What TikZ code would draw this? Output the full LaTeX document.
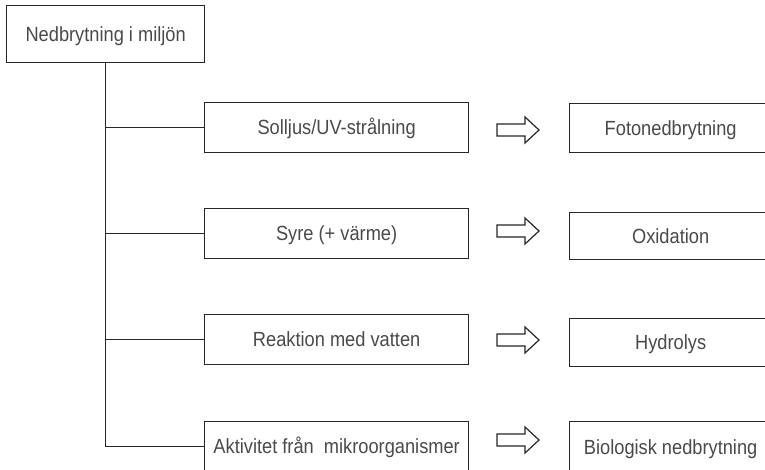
\documentclass[tikz,border=0pt]{standalone}
\usepackage{fontspec}
\setmainfont{Liberation Sans}[FakeStretch=0.89]
\definecolor{ink}{HTML}{262626}
\definecolor{txt}{HTML}{4a4a4a}
\begin{document}
\begin{tikzpicture}[x=1pt,y=-1pt,
  box/.style={draw=ink, line width=1.3pt, fill=white, text=txt,
    font=\fontsize{20.5}{22}\selectfont, inner sep=0pt, anchor=north west,
    text height=14pt, text depth=0pt},
  cause/.style={box, minimum width=264pt, minimum height=50pt},
  effect/.style={box, minimum width=202pt},
  link/.style={draw=ink, line width=1.3pt},
  blockarrow/.pic={
    \draw[draw=ink, line width=1.2pt, fill=white, line join=miter]
      (0,-6) -- (28,-6) -- (28,-13) -- (42,0) -- (28,13) -- (28,6) -- (0,6) -- cycle;
  }]
\useasboundingbox (0,0) rectangle (765,469);
\clip (0,0) rectangle (765,469);

% root
\node[box, minimum width=198pt, minimum height=57pt] (root) at (6,5) {Nedbrytning i miljön};

% causes
\node[cause] (c1) at (204,102) {Solljus/UV-strålning};
\node[cause] (c2) at (204,208) {Syre (+ värme)};
\node[cause] (c3) at (204,314) {Reaktion med vatten};
\node[cause] (c4) at (204,421) {Aktivitet från\ \ mikroorganismer};

% tree connectors
\draw[link] (root.south) |- (c4.west);
\draw[link] (root.south |- c1.west) -- (c1.west);
\draw[link] (root.south |- c2.west) -- (c2.west);
\draw[link] (root.south |- c3.west) -- (c3.west);

% block arrows
\coordinate (a1) at (497,130);
\coordinate (a2) at (497,231);
\coordinate (a3) at (497,340);
\coordinate (a4) at (497,440);
\pic at (a1) {blockarrow};
\pic at (a2) {blockarrow};
\pic at (a3) {blockarrow};
\pic at (a4) {blockarrow};

% effects
\node[effect, minimum height=49pt] (e1) at (569,103) {Fotonedbrytning};
\node[effect, minimum height=47pt] (e2) at (569,212) {Oxidation};
\node[effect, minimum height=48pt] (e3) at (569,318) {Hydrolys};
\node[effect, minimum height=52pt] (e4) at (569,421) {Biologisk nedbrytning};
\end{tikzpicture}
\end{document}
